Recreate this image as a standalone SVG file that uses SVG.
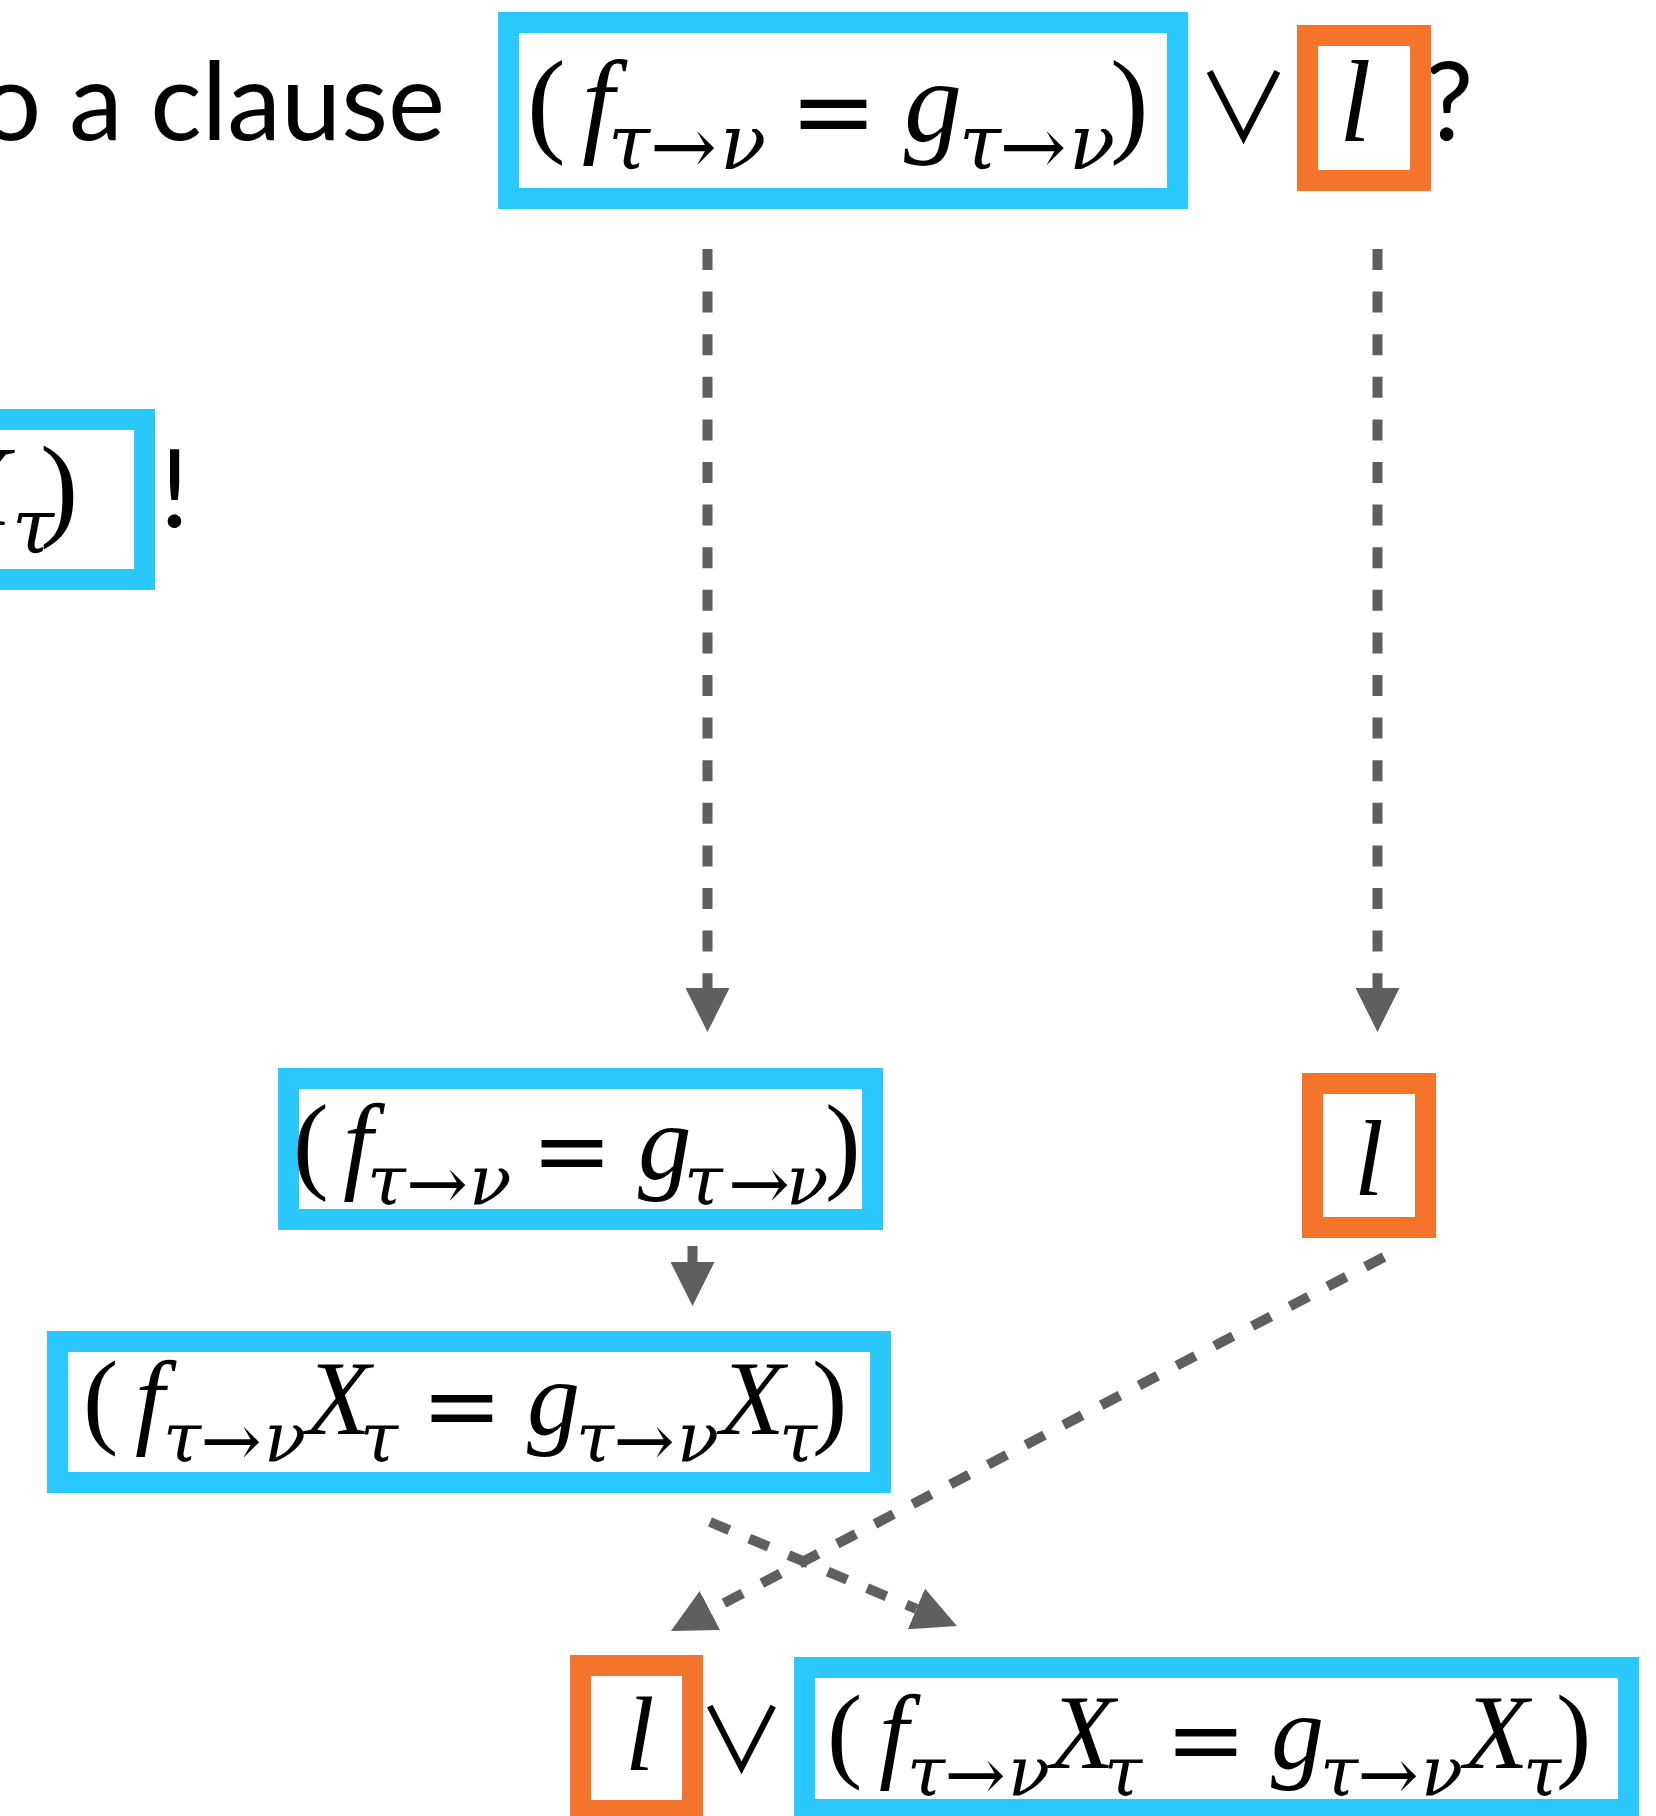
<svg xmlns="http://www.w3.org/2000/svg" width="1656" height="1816" viewBox="0 0 1656 1816">
<style>
.bg{fill:#ffffff}
.blue{fill:#ffffff;stroke:#2bc8ff;stroke-width:21}
.orange{fill:#ffffff;stroke:#f5742b;stroke-width:21}
.m{font-family:"Liberation Serif","Times New Roman",serif;fill:#000}
.i{font-style:italic}
.gk{font-family:"DejaVu Serif",serif;font-style:italic;fill:#000}
.eq{font-family:"DejaVu Serif",serif;fill:#000;text-anchor:middle}
.ar{font-family:"DejaVu Serif",serif;fill:#000;text-anchor:middle}
.s{font-family:Lato,"Open Sans","Noto Sans",sans-serif;fill:#000}
.or{font-family:"Noto Sans CJK JP","DejaVu Sans",sans-serif;fill:#000;text-anchor:middle}
.dash{fill:none;stroke:#5f5f5f;stroke-width:10;stroke-dasharray:21 21.6}
.solid{fill:none;stroke:#5f5f5f;stroke-width:10}
</style>
<defs>
<marker id="ah" markerUnits="userSpaceOnUse" markerWidth="44" markerHeight="44" viewBox="0 -22 44 44" refX="0" refY="0" orient="auto">
<path d="M0,-22L44,0L0,22Z" fill="#5f5f5f"/>
</marker>
</defs>
<rect class="bg" x="0" y="0" width="1656" height="1816"/>

<g id="top-text">
<text class="s" font-size="108" x="445" y="140" text-anchor="end">o a clause</text>
<text class="or" font-size="95" x="1243.5" y="143">∨</text>
<text class="s" font-size="108" x="1425" y="140">?</text>
</g>

<g id="top-equation">
<rect class="blue" x="508.5" y="22.5" width="669" height="176"/>
<text class="m" font-size="116" x="527" y="141">(</text>
<text class="m i" font-size="116" x="582" y="141">f</text>
<text class="gk" font-size="76" x="608" y="169">τ</text>
<text class="ar" font-size="80" x="683.5" y="174">→</text>
<text class="gk" font-size="76" x="720" y="169">ν</text>
<text class="eq" font-size="105" x="833.5" y="147">=</text>
<text class="m i" font-size="116" x="904" y="141">g</text>
<text class="gk" font-size="76" x="959" y="169">τ</text>
<text class="ar" font-size="80" x="1033" y="174">→</text>
<text class="gk" font-size="76" x="1069" y="169">ν</text>
<text class="m" font-size="116" x="1110" y="141">)</text>
</g>

<g id="top-literal">
<rect class="orange" x="1307.5" y="35.5" width="113" height="145"/>
<text class="m i" font-size="116" x="1339" y="141">l</text>
</g>

<g id="left-equation">
<rect class="blue" x="-100" y="419.5" width="244.5" height="160"/>
<text class="m i" font-size="115" x="-59" y="525">X</text>
<text class="gk" font-size="76" x="12" y="553">τ</text>
<text class="m" font-size="115" x="40" y="525">)</text>
</g>
<text id="exclaim" class="s" font-size="108" x="160" y="527">!</text>

<g id="mid-equation">
<rect class="blue" x="288.5" y="1078.5" width="584" height="141"/>
<text class="m" font-size="107" x="293" y="1179">(</text>
<text class="m i" font-size="107" x="343" y="1179">f</text>
<text class="gk" font-size="70" x="367" y="1204">τ</text>
<text class="ar" font-size="74" x="437" y="1209">→</text>
<text class="gk" font-size="70" x="469" y="1204">ν</text>
<text class="eq" font-size="97" x="572" y="1184">=</text>
<text class="m i" font-size="107" x="638" y="1179">g</text>
<text class="gk" font-size="70" x="684" y="1204">τ</text>
<text class="ar" font-size="74" x="759" y="1209">→</text>
<text class="gk" font-size="70" x="786" y="1204">ν</text>
<text class="m" font-size="107" x="825" y="1179">)</text>
</g>

<g id="mid-literal">
<rect class="orange" x="1312.5" y="1083.5" width="113" height="144"/>
<text class="m i" font-size="107" x="1354" y="1195">l</text>
</g>

<g id="lower-equation">
<rect class="blue" x="57.5" y="1341.5" width="823" height="141"/>
<text class="m" font-size="106" x="83" y="1434">(</text>
<text class="m i" font-size="106" x="135" y="1434">f</text>
<text class="gk" font-size="69" x="163" y="1461">τ</text>
<text class="ar" font-size="73" x="231" y="1466">→</text>
<text class="gk" font-size="69" x="264" y="1461">ν</text>
<text class="m i" font-size="106" x="306" y="1434">X</text>
<text class="gk" font-size="69" x="360" y="1461">τ</text>
<text class="eq" font-size="97" x="462" y="1439">=</text>
<text class="m i" font-size="106" x="527" y="1434">g</text>
<text class="gk" font-size="69" x="576" y="1461">τ</text>
<text class="ar" font-size="73" x="644" y="1466">→</text>
<text class="gk" font-size="69" x="677" y="1461">ν</text>
<text class="m i" font-size="106" x="720" y="1434">X</text>
<text class="gk" font-size="69" x="779" y="1461">τ</text>
<text class="m" font-size="106" x="812" y="1434">)</text>
</g>

<g id="bottom-literal">
<rect class="orange" x="580.5" y="1665.5" width="112" height="145"/>
<text class="m i" font-size="106" x="625" y="1770">l</text>
</g>
<text id="bottom-or" class="or" font-size="89" x="741.5" y="1772">∨</text>

<g id="bottom-equation">
<rect class="blue" x="804.5" y="1667.5" width="824" height="142"/>
<text class="m" font-size="106" x="827" y="1768">(</text>
<text class="m i" font-size="106" x="879" y="1768">f</text>
<text class="gk" font-size="69" x="907" y="1795">τ</text>
<text class="ar" font-size="73" x="975" y="1800">→</text>
<text class="gk" font-size="69" x="1008" y="1795">ν</text>
<text class="m i" font-size="106" x="1050" y="1768">X</text>
<text class="gk" font-size="69" x="1104" y="1795">τ</text>
<text class="eq" font-size="97" x="1206" y="1773">=</text>
<text class="m i" font-size="106" x="1271" y="1768">g</text>
<text class="gk" font-size="69" x="1320" y="1795">τ</text>
<text class="ar" font-size="73" x="1388" y="1800">→</text>
<text class="gk" font-size="69" x="1421" y="1795">ν</text>
<text class="m i" font-size="106" x="1464" y="1768">X</text>
<text class="gk" font-size="69" x="1523" y="1795">τ</text>
<text class="m" font-size="106" x="1556" y="1768">)</text>
</g>

<g id="connectors">
<line class="dash" x1="707.5" y1="249" x2="707.5" y2="988" marker-end="url(#ah)"/>
<line class="dash" x1="1377.5" y1="249" x2="1377.5" y2="988" marker-end="url(#ah)"/>
<line class="solid" x1="692.5" y1="1246" x2="692.5" y2="1262" marker-end="url(#ah)"/>
<line class="dash" x1="1384" y1="1257" x2="709.9" y2="1610.5" marker-end="url(#ah)"/>
<line class="dash" x1="710" y1="1522" x2="916.4" y2="1608.9" marker-end="url(#ah)"/>
</g>
</svg>
